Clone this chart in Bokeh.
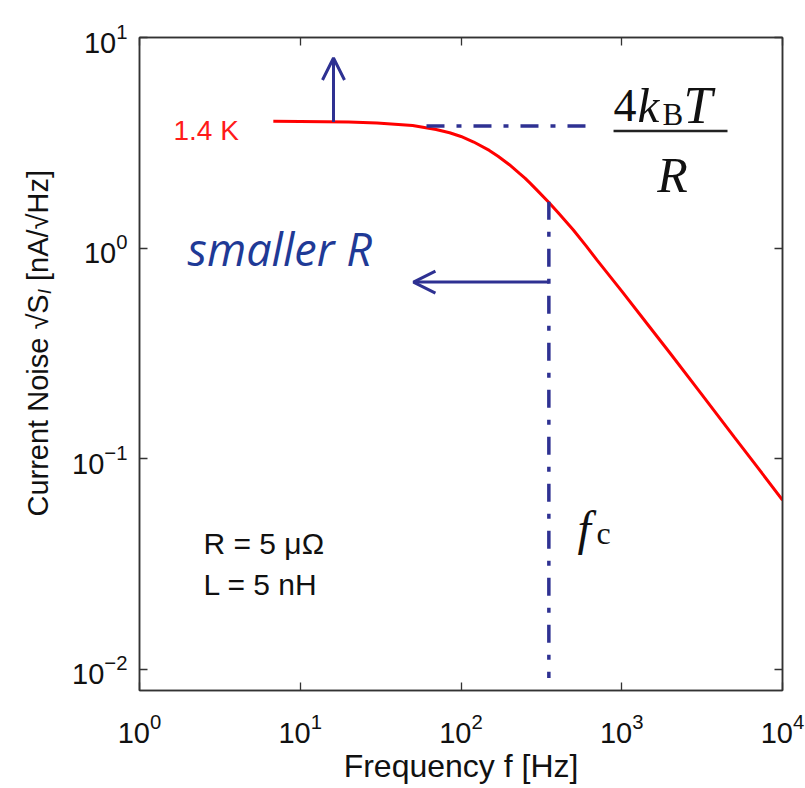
import math
from bokeh.plotting import figure
from bokeh.layouts import row
from bokeh.models import (Range1d, LogAxis, FixedTicker, LogTickFormatter, Label,
                          Arrow, OpenHead, Div)
from bokeh.embed import file_html
from bokeh.resources import INLINE

# ---- data ----
freq_hz = [6.8, 10, 20, 30, 50, 70, 85, 100, 120, 150, 170, 200, 230, 250, 270,
           300, 350, 400, 500, 600, 700, 1000, 1500, 2000, 3000, 5000, 7000, 10000]
noise_nA = [4.00, 3.99, 3.97, 3.93, 3.82, 3.66, 3.53, 3.39, 3.19, 2.91, 2.73,
            2.49, 2.27, 2.15, 2.03, 1.87, 1.655, 1.48, 1.22, 1.025, 0.88, 0.625,
            0.42, 0.317, 0.212, 0.127, 0.091, 0.0636]
x_ticks = [1, 10, 100, 1000, 10000]
y_ticks = [0.01, 0.1, 1, 10]
plateau_x = [61, 628]
plateau_y = [3.80, 3.80]
fc_x = [352, 352]
fc_y = [1.66, 0.0091]

BLUE = "#2e3192"
TXT_BLUE = "#1f3a96"
AX = "#333333"

p = figure(width=745, height=788, x_axis_type="log", y_axis_type="log",
           x_range=Range1d(1, 1e4), y_range=Range1d(10 ** -2.1, 10),
           output_backend="svg", toolbar_location=None,
           min_border_left=79, min_border_right=23, min_border_top=37,
           min_border_bottom=98, margin=0)
p.grid.visible = False
p.outline_line_color = AX
p.outline_line_width = 1.5
p.background_fill_color = "white"
p.border_fill_color = "white"

def style_axis(ax, ticks, show_labels=True):
    ax.ticker = FixedTicker(ticks=ticks)
    ax.formatter = LogTickFormatter()
    ax.major_tick_in = 8
    ax.major_tick_out = 0
    ax.minor_tick_line_color = None
    ax.major_tick_line_color = AX
    ax.major_tick_line_width = 1.3
    ax.axis_line_color = AX
    ax.axis_line_width = 1.5
    if show_labels:
        ax.major_label_text_font = "Liberation Sans"
        ax.major_label_text_font_size = "29px"
        ax.major_label_text_color = "#111111"
    else:
        ax.major_label_text_font_size = "1px"
        ax.major_label_text_color = None
        ax.major_label_standoff = 0

style_axis(p.xaxis[0], x_ticks)
style_axis(p.yaxis[0], y_ticks)
p.xaxis[0].major_label_standoff = 22
p.yaxis[0].major_label_standoff = 12
p.xaxis[0].axis_label = "Frequency f [Hz]"
p.xaxis[0].axis_label_text_font = "Liberation Sans"
p.xaxis[0].axis_label_text_font_size = "32px"
p.xaxis[0].axis_label_text_font_style = "normal"
p.xaxis[0].axis_label_text_color = "#111111"
p.xaxis[0].axis_label_standoff = 2

top_ax = LogAxis()
right_ax = LogAxis()
style_axis(top_ax, x_ticks, False)
style_axis(right_ax, y_ticks, False)
p.add_layout(top_ax, "above")
p.add_layout(right_ax, "right")

# ---- curve ----
p.line(freq_hz, noise_nA, line_color="#ff0000", line_width=3)

# ---- dash-dot guides ----
p.line(plateau_x, plateau_y, line_color=BLUE, line_width=3.5, line_dash="18 12 5 12")
p.line(fc_x, fc_y, line_color=BLUE, line_width=3.5, line_dash="18 12 5 12")

# ---- arrows ----
p.add_layout(Arrow(end=OpenHead(size=22, line_color=BLUE, line_width=3),
                   x_start=16.1, y_start=3.97, x_end=16.1, y_end=7.99,
                   line_color=BLUE, line_width=3))
p.add_layout(Arrow(end=OpenHead(size=22, line_color=BLUE, line_width=3),
                   x_start=352, y_start=0.69, x_end=50.6, y_end=0.69,
                   line_color=BLUE, line_width=3))

def lab(x, y, text, size, color="#111111", font="Liberation Sans", style="normal",
        align="left", baseline="alphabetic", angle=0.0):
    p.add_layout(Label(x=x, y=y, text=text, text_font=font, text_font_size=size,
                       text_color=color, text_font_style=style, text_align=align,
                       text_baseline=baseline, angle=angle))

# texts
lab(1.627, 3.6, "1.4 K", "28px", color="#ff1a1a")
lab(1.99, 1.0, "smaller R", "45px", color=TXT_BLUE, font="Open Sans", style="italic")
lab(2.50, 0.0397, "R = 5 \u03bc\u03a9", "30px")
lab(2.50, 0.0253, "L = 5 nH", "30px")

# 4 k_B T / R
SERIF = "Liberation Serif"
lab(889, 4.73, "4", "46px", font=SERIF)
lab(1253, 4.73, "k", "49px", font=SERIF, style="italic")
lab(1793, 4.30, "B", "31px", font=SERIF)
lab(2422, 4.73, "T", "52px", font=SERIF, style="italic")
p.line([889, 4549], [3.60, 3.60], line_color="#222222", line_width=2.5)
lab(2069, 2.22, "R", "50px", font=SERIF, style="italic", align="center")

# f_c
lab(530, 0.0468, "f", "48px", font=SERIF, style="italic")
lab(697, 0.0443, "c", "32px", font=SERIF)

# y axis label: Current Noise sqrt(S_I) [nA/sqrt(Hz)]
ylab = Div(width=60, height=788, margin=0, text=(
    '<div style="position:relative;width:60px;height:788px;">'
    '<div style="position:absolute;left:22px;top:170px;'
    'writing-mode:vertical-rl;transform:rotate(180deg);white-space:nowrap;'
    'font-family:\'Liberation Sans\';font-size:29px;line-height:33px;color:#111111;">'
    'Current Noise \u221aS<sub style="font-size:19px;font-style:italic;">I</sub>'
    ' [nA/\u221aHz]</div></div>'))

layout = row(ylab, p)
open("out.html", "w").write(file_html(layout, INLINE))
